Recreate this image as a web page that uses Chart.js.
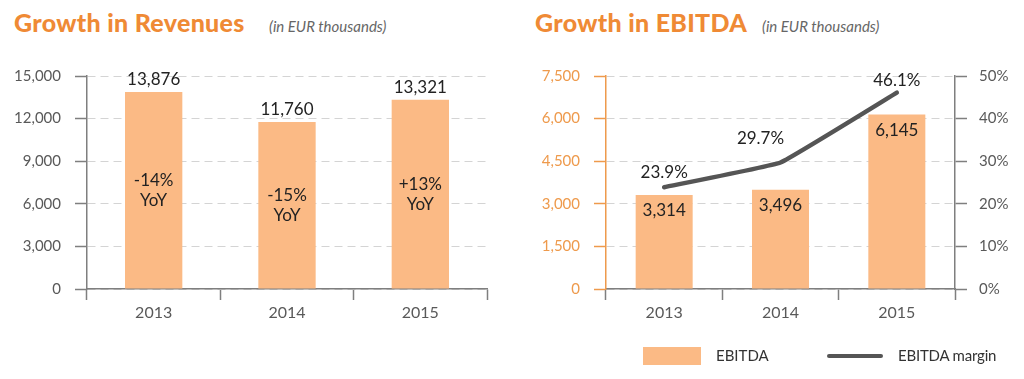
<!DOCTYPE html>
<html><head><meta charset="utf-8">
<script src="https://cdn.jsdelivr.net/npm/chart.js@4.4.0/dist/chart.umd.min.js"></script>
<style>
body{margin:0;width:1024px;height:379px;background:#fff;position:relative;overflow:hidden;font-family:Lato,sans-serif;}
.t{position:absolute;top:7px;font-family:Lato,sans-serif;font-weight:900;font-size:25px;color:#EF8A35;white-space:nowrap;letter-spacing:0.3px}
.s{position:absolute;top:17px;font-family:Lato,sans-serif;font-style:italic;font-size:15px;color:#666;white-space:nowrap}
canvas{position:absolute;top:0}
.lg{position:absolute;font-family:Lato,sans-serif;font-size:15px;color:#333;white-space:nowrap}
</style></head>
<body>
<div class="t" style="left:14px">Growth in Revenues</div>
<div class="s" style="left:269px">(in EUR thousands)</div>
<div class="t" style="left:535px">Growth in EBITDA</div>
<div class="s" style="left:762px">(in EUR thousands)</div>
<canvas id="c1" width="512" height="379" style="left:0"></canvas>
<canvas id="c2" width="512" height="379" style="left:512px"></canvas>
<div style="position:absolute;left:643px;top:347px;width:58px;height:18px;background:#FBBA85"></div>
<div class="lg" style="left:716px;top:346px">EBITDA</div>
<div style="position:absolute;left:827px;top:354px;width:56px;height:4px;border-radius:2px;background:#555"></div>
<div class="lg" style="left:898px;top:346px;letter-spacing:-0.2px">EBITDA margin</div>
<script>
// ---- data ----
const years = ['2013', '2014', '2015'];
const revenues = [13876, 11760, 13321];
const revenueYoY = ['-14%', '-15%', '+13%'];
const ebitda = [3314, 3496, 6145];
const ebitdaMargin = [23.9, 29.7, 46.1];

const BAR = '#FBBA85';
const AXIS = '#7f7f7f';
const GRID = '#d4d4d4';
const ORANGE = '#EE9A4C';
const TXT = '#595959';
const LBL = '#222';
const FONT = 'Lato, sans-serif';
const fmt = v => v.toLocaleString('en-US');

const labelPlugin = {
  id: 'valueLabels',
  afterDatasetsDraw(chart, args, opts) {
    const ctx = chart.ctx;
    ctx.save();
    ctx.textAlign = 'center';
    ctx.textBaseline = 'middle';
    ctx.fillStyle = LBL;
    ctx.font = '17px ' + FONT;
    (opts.items || []).forEach(it => {
      const meta = chart.getDatasetMeta(it.dataset);
      const data = chart.data.datasets[it.dataset].data;
      meta.data.forEach((el, i) => {
        const lines = it.text(data[i], i);
        const off = it.offset ? it.offset(el, i) : {dx: 0, dy: 0};
        let cx = el.x + off.dx, cy;
        if (it.mode === 'middle') cy = (el.y + el.base) / 2;
        else cy = el.y + off.dy;
        const n = lines.length, lh = 20;
        lines.forEach((s, k) => ctx.fillText(s, cx, cy + (k - (n - 1) / 2) * lh));
      });
    });
    ctx.restore();
  }
};

const tickFont = {family: FONT, size: 15};

new Chart(document.getElementById('c1'), {
  type: 'bar',
  data: {labels: years, datasets: [{data: revenues, backgroundColor: BAR, barPercentage: 0.43, categoryPercentage: 1}]},
  options: {
    responsive: false, animation: false,
    layout: {padding: {top: 76, right: 25, bottom: 50, left: 0}},
    plugins: {legend: {display: false}, tooltip: {enabled: false},
      valueLabels: {items: [
        {dataset: 0, text: v => [fmt(v)], offset: () => ({dx: 0, dy: -12})},
        {dataset: 0, mode: 'middle', text: (v, i) => [revenueYoY[i], 'YoY']}
      ]}},
    scales: {
      x: {grid: {drawOnChartArea: false, tickLength: 11, tickColor: AXIS, tickWidth: 1.5, offset: true},
          border: {color: AXIS, width: 1.5},
          ticks: {font: {family: FONT, size: 16}, color: TXT, padding: 3},
          afterFit: s => { s.height = 40; }},
      y: {min: 0, max: 15000,
          ticks: {stepSize: 3000, font: tickFont, color: TXT, padding: 14, callback: v => fmt(v)},
          grid: {color: GRID, lineWidth: 1, tickLength: 12, tickColor: AXIS, tickWidth: 1.5},
          border: {color: AXIS, width: 1.5, dash: [8, 5]},
          afterFit: s => { s.width = 87; }}
    }
  },
  plugins: [labelPlugin]
});

const lineOffsets = [{dx: 0, dy: -15}, {dx: -20, dy: -24}, {dx: 0, dy: -12}];
new Chart(document.getElementById('c2'), {
  type: 'bar',
  data: {labels: years, datasets: [
    {type: 'line', data: ebitdaMargin, yAxisID: 'y1', borderColor: '#555', borderWidth: 4.5,
     pointRadius: 0, tension: 0.08, borderCapStyle: 'round', borderJoinStyle: 'round', order: 0},
    {type: 'bar', data: ebitda, yAxisID: 'y', backgroundColor: BAR, barPercentage: 0.49, categoryPercentage: 1, order: 1}
  ]},
  options: {
    responsive: false, animation: false,
    layout: {padding: {top: 76, right: 0, bottom: 50, left: 0}},
    plugins: {legend: {display: false}, tooltip: {enabled: false},
      valueLabels: {items: [
        {dataset: 1, text: v => [fmt(v)], offset: () => ({dx: 0, dy: 16})},
        {dataset: 0, text: v => [v.toFixed(1) + '%'], offset: (el, i) => lineOffsets[i]}
      ]}},
    scales: {
      x: {grid: {drawOnChartArea: false, tickLength: 11, tickColor: AXIS, tickWidth: 1.5, offset: true},
          border: {color: AXIS, width: 1.5},
          ticks: {font: {family: FONT, size: 16}, color: TXT, padding: 3},
          afterFit: s => { s.height = 40; }},
      y: {position: 'left', min: 0, max: 7500,
          ticks: {stepSize: 1500, font: tickFont, color: ORANGE, padding: 14, callback: v => fmt(v)},
          grid: {color: GRID, lineWidth: 1, tickLength: 12, tickColor: ORANGE, tickWidth: 1.5},
          border: {color: ORANGE, width: 1.5, dash: [8, 5]},
          afterFit: s => { s.width = 94; }},
      y1: {position: 'right', min: 0, max: 50,
          ticks: {stepSize: 10, font: tickFont, color: TXT, padding: 12, callback: v => v + '%'},
          grid: {drawOnChartArea: false, tickLength: 12, tickColor: AXIS, tickWidth: 1.5},
          border: {color: AXIS, width: 1.5},
          afterFit: s => { s.width = 69; }}
    }
  },
  plugins: [labelPlugin]
});
</script>
</body></html>
